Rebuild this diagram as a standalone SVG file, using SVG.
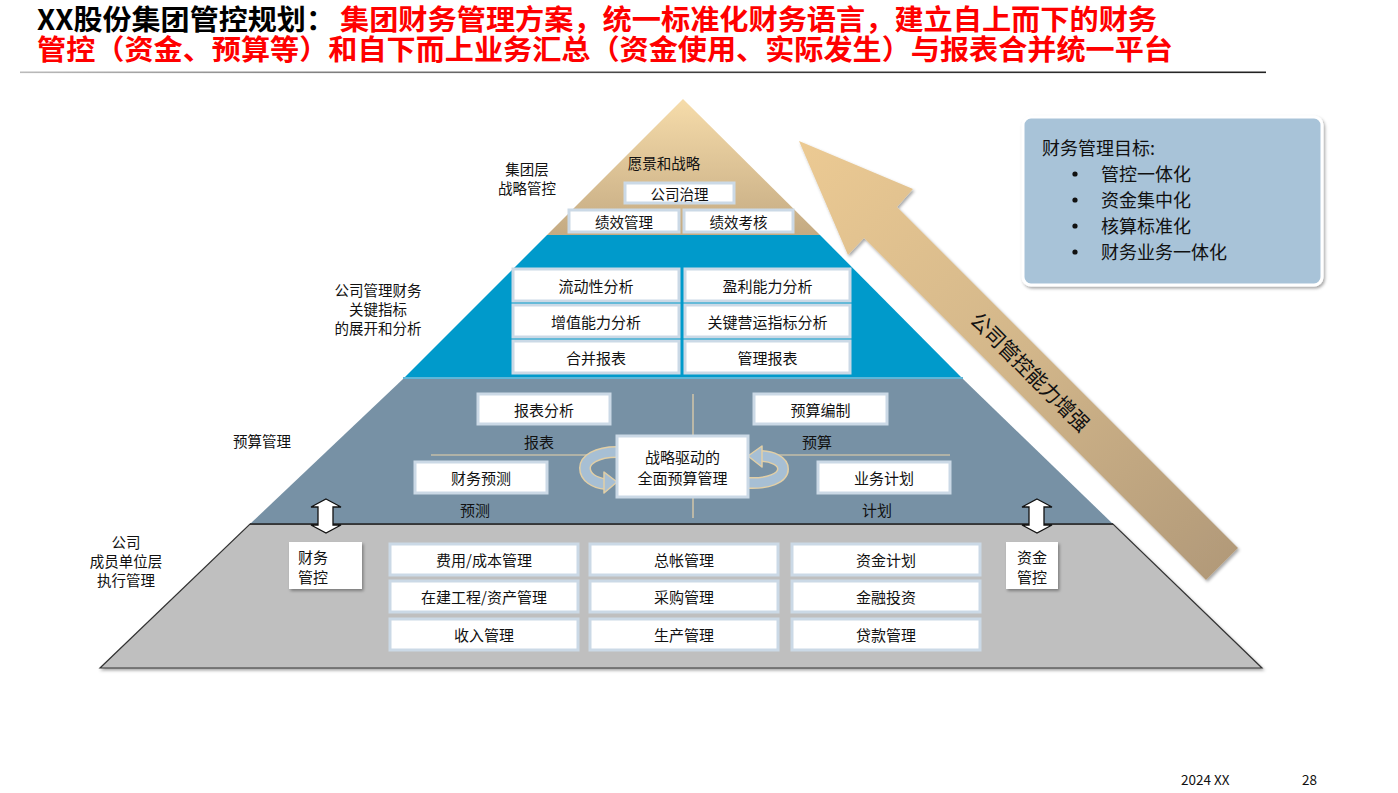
<svg xmlns="http://www.w3.org/2000/svg" width="1398" height="793" viewBox="0 0 1398 793">
<defs>
<style>
.t{font-family:"Noto Sans CJK SC","Liberation Sans",sans-serif;fill:#111;}
.c{text-anchor:middle;dominant-baseline:central;}
.box{fill:#fff;stroke:#cbd9e6;stroke-width:3;}
.f15{font-size:15px;}
.f14{font-size:14.5px;}
.title{font-size:28px;font-weight:bold;}
</style>
<linearGradient id="gTop" x1="0" y1="0" x2="0" y2="1">
<stop offset="0" stop-color="#f6dcaa"/>
<stop offset="1" stop-color="#c4aa82"/>
</linearGradient>
<linearGradient id="gArrow" x1="0" y1="0" x2="1" y2="1">
<stop offset="0" stop-color="#ecca93"/>
<stop offset="0.5" stop-color="#d2b68a"/>
<stop offset="1" stop-color="#b09878"/>
</linearGradient>
<linearGradient id="gLine" x1="20" y1="0" x2="1266" y2="0" gradientUnits="userSpaceOnUse">
<stop offset="0" stop-color="#bbbbbb"/>
<stop offset="0.5" stop-color="#444444"/>
<stop offset="1" stop-color="#222222"/>
</linearGradient>
<filter id="sh" x="-20%" y="-20%" width="140%" height="140%">
<feDropShadow dx="1.5" dy="2" stdDeviation="1.5" flood-color="#000" flood-opacity="0.35"/>
</filter>
</defs>
<rect width="1398" height="793" fill="#fff"/>

<!-- Title -->
<g id="title">
<text class="t title" x="37" y="30" textLength="298" lengthAdjust="spacingAndGlyphs" style="fill:#000">XX股份集团管控规划：</text>
<text class="t title" x="340" y="30" textLength="817" lengthAdjust="spacingAndGlyphs" style="fill:#ff0000">集团财务管理方案，统一标准化财务语言，建立自上而下的财务</text>
<text class="t title" x="37" y="60" textLength="1136" lengthAdjust="spacingAndGlyphs" style="fill:#ff0000">管控（资金、预算等）和自下而上业务汇总（资金使用、实际发生）与报表合并统一平台</text>
<rect x="20" y="71.5" width="1246" height="1.6" fill="url(#gLine)"/>
</g>

<!-- Pyramid layers -->
<g id="layer-bottom">
<polygon points="250,524 1113,524 1262,668 100,668" fill="#bfbfbf" stroke="#333" stroke-width="1.2" filter="url(#sh)"/>
</g>
<g id="layer-budget">
<polygon points="403,379 963,379 1113,524 250,524" fill="#7791a5"/>
<line x1="250" y1="524" x2="1113" y2="524" stroke="#222" stroke-width="1.5"/>
</g>
<g id="layer-kpi">
<polygon points="547,235 820,235 963,379 403,379" fill="#009acb"/>
<line x1="403" y1="378" x2="963" y2="378" stroke="#5fb6d8" stroke-width="2"/>
</g>
<g id="layer-top">
<polygon points="683,99 820,235 547,235" fill="url(#gTop)"/>
</g>

<!-- Big arrow -->
<g id="growth-arrow">
<polygon points="799,141 913,189 897,207 1238,548 1206,580 864,238 848,255" fill="url(#gArrow)" filter="url(#sh)"/>
<text class="t c" x="1031" y="371" font-size="21" transform="rotate(45 1031 371)" textLength="158" lengthAdjust="spacingAndGlyphs">公司管控能力增强</text>
</g>

<!-- Top layer content -->
<g id="top-content">
<text class="t c f14" x="664" y="162">愿景和战略</text>
<g id="n-gongsizhili"><rect class="box" x="625" y="183" width="109" height="20"/><text class="t c f14" x="679.5" y="193.5">公司治理</text></g>
<g id="n-jixiaoguanli"><rect class="box" x="569" y="210" width="110" height="22"/><text class="t c f14" x="624" y="221">绩效管理</text></g>
<g id="n-jixiaokaohe"><rect class="box" x="684" y="210" width="109" height="22"/><text class="t c f14" x="738.5" y="221">绩效考核</text></g>
</g>
<g id="label-top">
<text class="t c f14" x="527" y="168">集团层</text>
<text class="t c f14" x="527" y="187">战略管控</text>
</g>

<!-- KPI layer content -->
<g id="label-kpi">
<text class="t c f14" x="378" y="289">公司管理财务</text>
<text class="t c f14" x="378" y="308">关键指标</text>
<text class="t c f14" x="378" y="327">的展开和分析</text>
</g>
<g id="n-liudong"><rect class="box" x="513" y="269" width="166" height="32"/><text class="t c f15" x="596" y="285">流动性分析</text></g>
<g id="n-yingli"><rect class="box" x="685" y="269" width="165" height="32"/><text class="t c f15" x="767.5" y="285">盈利能力分析</text></g>
<g id="n-zengzhi"><rect class="box" x="513" y="305" width="166" height="32"/><text class="t c f15" x="596" y="321">增值能力分析</text></g>
<g id="n-guanjian"><rect class="box" x="685" y="305" width="165" height="32"/><text class="t c f15" x="767.5" y="321">关键营运指标分析</text></g>
<g id="n-hebing"><rect class="box" x="513" y="341" width="166" height="32"/><text class="t c f15" x="596" y="357">合并报表</text></g>
<g id="n-guanlibaobiao"><rect class="box" x="685" y="341" width="165" height="32"/><text class="t c f15" x="767.5" y="357">管理报表</text></g>

<!-- Budget layer content -->
<g id="label-budget"><text class="t c f14" x="262" y="440">预算管理</text></g>
<g id="axes">
<line x1="431" y1="455" x2="950" y2="455" stroke="#e9d3a9" stroke-width="1.2"/>
<line x1="693" y1="394" x2="693" y2="518" stroke="#e9d3a9" stroke-width="1.2"/>
</g>
<g id="n-baobiaofenxi"><rect class="box" x="478" y="394" width="132" height="30"/><text class="t c f15" x="544" y="409">报表分析</text></g>
<g id="n-yusuanbianzhi"><rect class="box" x="754" y="394" width="133" height="30"/><text class="t c f15" x="820.5" y="409">预算编制</text></g>
<text class="t c f15" x="539" y="441">报表</text>
<text class="t c f15" x="817" y="441">预算</text>
<g id="n-caiwuyuce"><rect class="box" x="415" y="462" width="132" height="31"/><text class="t c f15" x="481" y="477.5">财务预测</text></g>
<g id="n-yewujihua"><rect class="box" x="818" y="462" width="132" height="31"/><text class="t c f15" x="884" y="477.5">业务计划</text></g>
<text class="t c f15" x="475" y="509">预测</text>
<text class="t c f15" x="877" y="509">计划</text>

<!-- Cycle arrows -->
<g id="cycle-left">
<path d="M617,452 C596,452 585,460 585,468 C585,477 594,483 606,484" fill="none" stroke="#e2cfa6" stroke-width="12" stroke-linecap="butt"/>
<path d="M617,452 C596,452 585,460 585,468 C585,477 594,483 606,484" fill="none" stroke="#a7bfd4" stroke-width="9"/>
<polygon points="604,472 617,482 604,493" fill="#a7bfd4" stroke="#e2cfa6" stroke-width="1.5" stroke-linejoin="round"/>
</g>
<g id="cycle-right">
<path d="M748,483 C768,484 783,478 783,469 C783,461 772,456 760,456" fill="none" stroke="#e2cfa6" stroke-width="12"/>
<path d="M748,483 C768,484 783,478 783,469 C783,461 772,456 760,456" fill="none" stroke="#a7bfd4" stroke-width="9"/>
<polygon points="762,446 748,456 762,467" fill="#a7bfd4" stroke="#e2cfa6" stroke-width="1.5" stroke-linejoin="round"/>
</g>
<g id="n-center"><rect class="box" x="617" y="436" width="131" height="61"/><text class="t c f15" x="682.5" y="456">战略驱动的</text><text class="t c f15" x="682.5" y="477">全面预算管理</text></g>

<!-- Double arrows -->
<g id="connectors">
<polygon points="326,499 341,507 333,507 333,525 341,525 326,533 311,525 318,525 318,507 311,507" fill="#fff" stroke="#111" stroke-width="1.3" stroke-linejoin="miter"/>
<polygon points="1037,499 1052,507 1044,507 1044,525 1052,525 1037,533 1022,525 1029,525 1029,507 1022,507" fill="#fff" stroke="#111" stroke-width="1.3" stroke-linejoin="miter"/>
</g>

<!-- Bottom layer content -->
<g id="label-bottom">
<text class="t c f14" x="126" y="541">公司</text>
<text class="t c f14" x="126" y="560">成员单位层</text>
<text class="t c f14" x="126" y="579">执行管理</text>
</g>
<g id="n-caiwuguankong"><rect x="289" y="542" width="73" height="47" fill="#fff" filter="url(#sh)"/><text class="t f15" x="298" y="556" dominant-baseline="central">财务</text><text class="t f15" x="298" y="576" dominant-baseline="central">管控</text></g>
<g id="n-zijinguankong"><rect x="1006" y="542" width="52" height="47" fill="#fff" filter="url(#sh)"/><text class="t c f15" x="1032" y="556">资金</text><text class="t c f15" x="1032" y="576">管控</text></g>

<g id="n-feiyong"><rect class="box" x="390" y="544" width="188" height="31"/><text class="t c f15" x="484" y="559.5">费用/成本管理</text></g>
<g id="n-zongzhang"><rect class="box" x="590" y="544" width="188" height="31"/><text class="t c f15" x="684" y="559.5">总帐管理</text></g>
<g id="n-zijinjihua"><rect class="box" x="792" y="544" width="188" height="31"/><text class="t c f15" x="886" y="559.5">资金计划</text></g>
<g id="n-zaijian"><rect class="box" x="390" y="581" width="188" height="31"/><text class="t c f15" x="484" y="596.5">在建工程/资产管理</text></g>
<g id="n-caigou"><rect class="box" x="590" y="581" width="188" height="31"/><text class="t c f15" x="684" y="596.5">采购管理</text></g>
<g id="n-jinrong"><rect class="box" x="792" y="581" width="188" height="31"/><text class="t c f15" x="886" y="596.5">金融投资</text></g>
<g id="n-shouru"><rect class="box" x="390" y="619" width="188" height="31"/><text class="t c f15" x="484" y="634.5">收入管理</text></g>
<g id="n-shengchan"><rect class="box" x="590" y="619" width="188" height="31"/><text class="t c f15" x="684" y="634.5">生产管理</text></g>
<g id="n-daikuan"><rect class="box" x="792" y="619" width="188" height="31"/><text class="t c f15" x="886" y="634.5">贷款管理</text></g>

<!-- Goals box -->
<g id="n-goals">
<rect x="1023" y="117" width="299" height="168" rx="8" ry="8" fill="#a8c3d8" stroke="#fff" stroke-width="3" filter="url(#sh)"/>
<text class="t" x="1042" y="147" font-size="18" dominant-baseline="central">财务管理目标:</text>
<g font-size="18">
<circle cx="1075" cy="174" r="2.6" fill="#111"/><text class="t" x="1101" y="173" dominant-baseline="central">管控一体化</text>
<circle cx="1075" cy="200" r="2.6" fill="#111"/><text class="t" x="1101" y="199" dominant-baseline="central">资金集中化</text>
<circle cx="1075" cy="226" r="2.6" fill="#111"/><text class="t" x="1101" y="225" dominant-baseline="central">核算标准化</text>
<circle cx="1075" cy="252" r="2.6" fill="#111"/><text class="t" x="1101" y="251" dominant-baseline="central">财务业务一体化</text>
</g>
</g>

<!-- Footer -->
<g id="footer">
<text class="t" x="1181" y="785" font-size="13.5">2024 XX</text>
<text class="t" x="1302" y="785" font-size="13.5">28</text>
</g>
</svg>
